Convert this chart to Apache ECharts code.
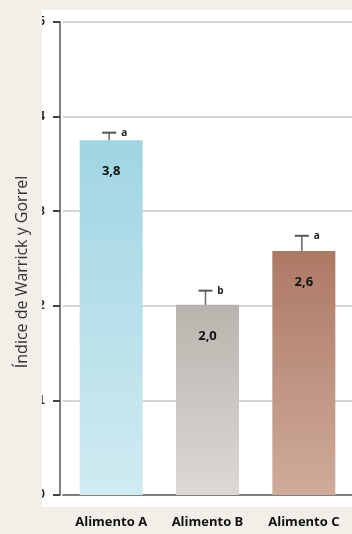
<!DOCTYPE html>
<html>
<head>
<meta charset="utf-8">
<script src="https://cdn.jsdelivr.net/npm/echarts@6/dist/echarts.min.js"></script>
<style>
  html, body { margin: 0; padding: 0; background: #f2efe9; }
  #main { width: 352px; height: 534px; }
</style>
</head>
<body>
<div id="main"></div>
<script>
const categories = ['Alimento A', 'Alimento B', 'Alimento C'];
const values = [3.75, 2.01, 2.58];
const valueLabels = ['3,8', '2,0', '2,6'];
const errors = [0.08, 0.15, 0.16];
const letters = ['a', 'b', 'a'];
const yTicks = ['0', '1', '2', '3', '4', '5'];

const barColors = [
  ['#a0d5e3', '#d0ebf1'],
  ['#b8b4ae', '#dcd9d4'],
  ['#ad7965', '#cfab9b']
];

const chart = echarts.init(document.getElementById('main'), null, { renderer: 'canvas' });

var option = {
  backgroundColor: '#f2efe9',
  animation: false,
  grid: { left: 63, right: -8, top: 22, bottom: 39 },
  xAxis: {
    type: 'category',
    data: categories,
    axisLine: { lineStyle: { color: '#7f7f7f', width: 2 } },
    axisTick: { show: false },
    axisLabel: {
      margin: 21,
      color: '#111',
      fontSize: 13,
      fontWeight: 'bold',
      fontFamily: 'Open Sans'
    }
  },
  yAxis: {
    type: 'value',
    min: 0,
    max: 5,
    interval: 1,
    offset: 3,
    axisLine: { show: true, lineStyle: { color: '#7f7f7f', width: 2 } },
    axisTick: { show: true, length: 7, lineStyle: { color: '#444', width: 2 } },
    axisLabel: {
      margin: 15,
      color: '#222',
      fontSize: 12,
      fontWeight: 'bold',
      formatter: function (v) { return yTicks[v]; }
    },
    splitLine: { lineStyle: { color: '#c9c9c9', width: 1.5 } }
  },
  graphic: [
    // white figure panel
    { type: 'rect', z: -10, shape: { x: 42, y: 10, width: 320, height: 497 }, style: { fill: '#ffffff' } },
    // page margin (crops tick labels)
    { type: 'rect', z: 100, shape: { x: 0, y: 0, width: 42, height: 534 }, style: { fill: '#f2efe9' } },
    {
      type: 'text', z: 101,
      x: 22, y: 272, rotation: Math.PI / 2,
      style: {
        text: 'Índice de Warrick y Gorrel',
        font: '16px "Open Sans"',
        fill: '#333',
        align: 'center',
        verticalAlign: 'middle'
      }
    }
  ],
  series: [
    {
      type: 'bar',
      barWidth: 63,
      data: values.map(function (v, i) {
        return {
          value: v,
          itemStyle: {
            color: new echarts.graphic.LinearGradient(0, 0, 0, 1, [
              { offset: 0, color: barColors[i][0] },
              { offset: 1, color: barColors[i][1] }
            ])
          }
        };
      }),
      label: {
        show: true,
        position: 'insideTop',
        distance: 25,
        color: '#111',
        fontSize: 13,
        fontWeight: 'bold',
        fontFamily: 'Open Sans',
        formatter: function (p) { return valueLabels[p.dataIndex]; }
      }
    },
    {
      type: 'custom',
      z: 5,
      data: values.map(function (v, i) { return [i, v, v + errors[i]]; }),
      renderItem: function (params, api) {
        var i = api.value(0);
        var base = api.coord([i, api.value(1)]);
        var top = api.coord([i, api.value(2)]);
        var x = base[0] - 2;
        var capW = 14;
        return {
          type: 'group',
          children: [
            { type: 'line', shape: { x1: x, y1: base[1], x2: x, y2: top[1] }, style: { stroke: '#666', lineWidth: 1.5 } },
            { type: 'line', shape: { x1: x - capW / 2, y1: top[1], x2: x + capW / 2, y2: top[1] }, style: { stroke: '#555', lineWidth: 2 } },
            {
              type: 'text',
              style: {
                x: x + capW / 2 + 8, y: top[1],
                text: letters[params.dataIndex],
                font: 'bold 10px "Open Sans"',
                fill: '#222',
                align: 'center',
                verticalAlign: 'middle'
              }
            }
          ]
        };
      }
    }
  ]
};

chart.setOption(option);
</script>
</body>
</html>
